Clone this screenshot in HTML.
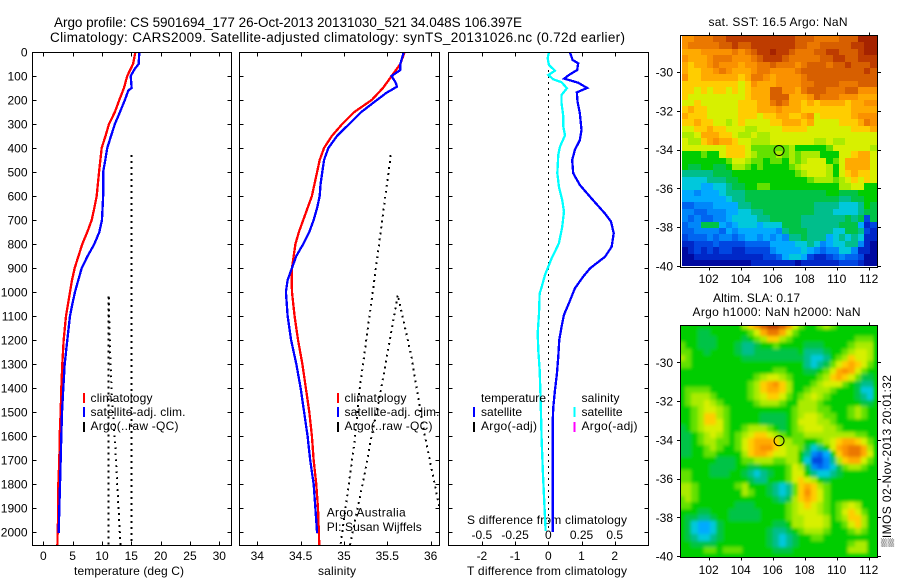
<!DOCTYPE html>
<html lang="en">
<head>
<meta charset="utf-8">
<title>Argo profile CS 5901694_177</title>
<style>
html,body{margin:0;padding:0;background:#fff;}
svg{display:block;font-family:"Liberation Sans",sans-serif;font-size:12px;fill:#000;}
</style>
</head>
<body>
<svg id="chart" xmlns="http://www.w3.org/2000/svg" width="900" height="580" viewBox="0 0 900 580">
  <rect x="0" y="0" width="900" height="580" fill="#fff"/>
  <defs>
    <clipPath id="clip-t"><rect x="33" y="53" width="198" height="492"/></clipPath>
    <clipPath id="clip-s"><rect x="240" y="53" width="199" height="492"/></clipPath>
    <clipPath id="clip-d"><rect x="449" y="53" width="199" height="492"/></clipPath>
    <clipPath id="clip-sla"><rect x="681" y="326" width="196" height="231"/></clipPath>
    <filter id="sla-smooth" filterUnits="userSpaceOnUse" x="660" y="305" width="240" height="275"><feGaussianBlur stdDeviation="1.6"/></filter>
  </defs>
  <text x="54" y="27" font-size="13.5" textLength="468" lengthAdjust="spacing">Argo profile: CS 5901694_177 26-Oct-2013 20131030_521 34.048S 106.397E</text>
  <text x="50" y="42" font-size="13.5" textLength="575" lengthAdjust="spacing">Climatology: CARS2009. Satellite-adjusted climatology: synTS_20131026.nc (0.72d earlier)</text>
  <g id="panel-temp"></g>
  <g id="panel-sal"></g>
  <g id="panel-diff"></g>
  <g id="map-sst"></g>
  <g id="map-sla"></g>
  <text transform="translate(891,547) rotate(-90)" textLength="172" lengthAdjust="spacing">▒IMOS 02-Nov-2013 20:01:32</text>
</svg>
<script>
/* ---------- profile data ---------- */
const depthTicks = [0,100,200,300,400,500,600,700,800,900,1000,1100,1200,1300,1400,1500,1600,1700,1800,1900,2000];
const tempTicks = [0,5,10,15,20,25,30];
const salTicks = [34,34.5,35,35.5,36];
const salTickLabels = ['34','34.5','35','35.5','36'];
const diffTicks = [-2,-1,0,1,2];
const sDiffTicks = [-0.5,-0.25,0,0.25,0.5];
const sDiffTickLabels = ['-0.5','-0.25','0','0.25','0.5'];

const climTempDepth = [0,50,100,150,200,250,300,350,400,500,600,650,700,750,800,850,900,950,1000,1100,1200,1300,1400,1500,1600,1700,1800,1900,2000,2054];
const climTemp = [15.7,15.3,14.3,13.75,12.95,12.2,11.2,10.6,9.95,9.5,9.1,8.7,8.25,7.5,6.65,6.0,5.35,4.9,4.55,3.87,3.47,3.24,3.07,2.96,2.79,2.73,2.56,2.56,2.45,2.4];
const satTempDepth = [0,50,70,100,150,160,200,250,300,350,400,450,500,600,700,750,800,850,900,950,1000,1050,1100,1200,1300,1400,1500,1600,1700,1800,1900,2005];
const satTemp = [16.37,16.25,15.6,14.9,15.06,14.5,13.9,13.07,12.2,11.54,10.9,10.57,10.2,10.2,10.0,9.55,8.7,7.56,6.55,5.97,5.4,4.95,4.55,4.09,3.65,3.41,3.19,3.07,2.96,2.85,2.73,2.62];

const climSalDepth = [0,50,100,150,200,250,300,350,400,450,500,550,600,650,700,750,800,850,900,950,1000,1100,1200,1300,1400,1500,1600,1700,1800,1900,2000,2054];
const climSal = [35.70,35.65,35.55,35.45,35.32,35.12,34.98,34.86,34.77,34.72,34.69,34.66,34.63,34.58,34.53,34.48,34.44,34.42,34.40,34.397,34.40,34.43,34.47,34.52,34.56,34.60,34.63,34.65,34.68,34.70,34.71,34.715];
const satSalDepth = [0,50,75,100,130,145,170,200,250,300,350,400,450,500,550,600,650,700,750,800,850,900,950,1000,1100,1200,1300,1400,1500,1600,1700,1800,1900,2005];
const satSal = [35.69,35.65,35.65,35.55,35.60,35.61,35.49,35.38,35.20,35.06,34.92,34.82,34.77,34.75,34.73,34.72,34.69,34.65,34.60,34.53,34.45,34.40,34.35,34.33,34.35,34.39,34.45,34.5,34.54,34.58,34.61,34.65,34.67,34.69];

const argoDepth = [430,978,1408,1630,2054,1756,1617,1421,1158,1012,1271,1575,1896,2054];
const argoTemp = [15,15,15,15,15,12.5,12.2,11.65,11.27,11.15,11.15,11.15,11.15,11.15];
const argoSal = [35.54,35.34,35.18,35.12,34.96,35.24,35.31,35.42,35.55,35.62,35.78,35.92,36.1,36.25];
const argoReturnDepth = [2054];
const argoReturnTemp = [13.15];
const argoReturnSal = [35.07];

const tDiffDepth = [0,33,47,75,96,111,128,150,168,207,255,325,367,408,450,505,554,610,672,707,755,811,853,901,936,985,1047,1096,1144,1200,1270,1340,1410,1480,1550,1690,2000];
const tDiff = [0.65,0.73,0.9,0.87,0.62,0.48,0.9,1.17,0.86,0.88,0.95,1.0,0.95,0.8,0.72,0.75,0.95,1.3,1.7,1.89,1.97,1.91,1.71,1.26,1.05,0.8,0.62,0.47,0.4,0.33,0.30,0.26,0.2,0.15,0.13,0.13,0.13];
const sDiffDepth = [0,26,54,78,96,114,126,151,179,214,269,311,347,394,429,505,561,617,665,728,797,860,929,989,1005,1090,1172,1245,1325,1410,1510,1620,1760,1880,1995];
const sDiff = [0.005,-0.005,0.005,0.05,0,0.038,0.10,0.14,0.10,0.10,0.113,0.113,0.126,0.088,0.075,0.068,0.08,0.105,0.118,0.105,0.08,0.025,-0.025,-0.055,-0.065,-0.07,-0.08,-0.075,-0.065,-0.06,-0.055,-0.05,-0.04,-0.03,-0.02];
const zeroLineDepth = [0,2000];
const zeroLineValue = [0,0];

/* ---------- map data ---------- */
const mapLonTicks = [102,104,106,108,110,112];
const mapLatTicks = [30,32,34,36,38,40];
const argoLon = 106.397;
const argoLat = 34.048;
const levelColors = [[0,0,130],[0,10,160],[0,40,200],[0,70,225],[0,100,240],[0,135,250],[0,170,255],[0,200,220],[0,190,140],[0,195,70],[0,205,0],[100,225,0],[170,235,0],[215,240,0],[255,205,0],[255,170,0],[250,145,0],[235,120,0],[215,95,0],[190,60,0],[165,35,0]];
const sstGrid = [
[16,16,17,17,17,18,18,19,19,19,19,19,19,19,19,19,19,19,18,18,18,17,17,17,17,18,18,18,20,20,20],
[16,17,17,17,17,17,18,18,19,18,18,19,19,19,19,19,19,19,18,18,17,17,18,18,18,18,18,19,19,20,20],
[15,15,15,16,16,16,16,16,17,16,17,18,19,19,20,19,19,18,17,17,17,18,18,19,19,18,18,18,19,20,20],
[16,15,15,15,16,17,17,17,16,16,16,17,18,19,19,19,18,17,17,17,17,17,18,18,19,19,18,18,19,19,19],
[15,14,15,15,16,17,16,16,16,15,16,16,17,17,18,17,17,17,16,17,18,18,18,17,18,18,19,18,18,18,19],
[15,14,14,15,15,16,17,16,15,15,15,16,17,17,16,16,16,16,17,18,18,18,18,18,18,18,18,18,18,19,18],
[16,14,14,15,15,15,15,15,15,14,15,17,17,16,15,16,16,16,16,17,18,18,18,18,18,18,18,18,18,18,18],
[14,14,14,14,14,14,14,14,14,13,14,16,15,15,15,16,16,16,16,17,17,18,18,18,18,17,17,17,18,18,18],
[14,14,13,14,13,14,14,13,14,13,14,15,15,15,18,18,16,16,15,17,18,18,18,17,17,17,18,18,16,16,16],
[14,13,13,13,13,13,13,13,13,13,14,15,15,15,18,18,18,15,15,15,16,18,17,17,17,16,16,16,15,15,15],
[13,13,14,13,13,13,13,13,13,14,14,14,15,15,17,18,17,15,15,14,15,14,15,15,15,15,14,15,15,16,16],
[14,15,14,14,13,13,13,13,13,14,14,14,15,15,15,16,15,15,15,14,14,14,14,14,14,14,14,15,15,15,15],
[15,14,14,14,13,13,13,13,13,14,14,14,13,14,14,15,15,14,14,15,16,13,14,14,14,14,14,15,16,16,16],
[14,14,15,14,14,13,13,12,13,14,13,13,13,13,14,14,15,15,15,14,15,13,13,13,13,14,14,14,15,17,16],
[13,13,14,14,15,14,14,13,13,13,12,12,13,13,13,13,14,14,14,14,13,13,13,13,13,13,13,14,14,14,15],
[12,12,13,15,15,15,14,14,13,12,12,13,12,12,13,13,13,13,13,13,13,13,13,13,13,13,13,13,13,13,13],
[13,12,12,14,15,16,15,15,14,13,13,12,12,12,13,13,13,13,13,13,13,12,12,13,12,12,13,13,13,13,13],
[13,13,13,13,13,13,13,14,14,14,13,11,11,11,11,11,11,12,10,10,10,10,10,11,13,13,13,13,13,13,12],
[10,10,10,11,10,10,13,14,14,14,13,12,11,11,11,12,11,12,11,12,12,12,10,10,10,13,13,14,15,15,13],
[10,10,10,10,10,10,10,11,13,13,12,11,11,10,11,11,10,12,11,12,13,13,13,10,11,13,15,15,15,15,13],
[10,9,9,10,10,9,9,10,12,12,11,10,11,10,10,10,10,11,12,13,13,13,13,12,10,13,15,15,15,15,13],
[8,8,8,8,8,9,9,9,10,10,10,10,10,10,10,10,10,10,11,12,13,13,13,12,10,13,14,15,14,14,13],
[7,7,7,7,8,8,8,9,9,10,10,10,10,10,10,10,10,10,10,10,11,12,12,12,11,12,13,14,13,14,13],
[7,7,7,6,6,7,7,8,9,9,10,10,11,11,10,10,10,10,10,10,10,10,10,10,10,12,12,13,13,10,10],
[6,6,5,6,6,6,7,8,8,8,9,9,9,9,9,9,9,9,9,9,9,9,9,10,10,9,9,9,10,10,10],
[6,6,6,6,6,6,6,7,8,8,9,9,9,9,9,9,9,9,9,9,9,9,9,9,9,8,8,9,9,10,10],
[4,4,5,5,5,6,6,6,6,8,8,9,9,9,9,9,9,9,9,9,9,8,8,8,8,7,7,7,8,10,9],
[5,5,4,4,5,5,5,6,6,7,7,8,8,9,9,9,9,9,9,9,9,8,8,8,7,7,7,7,8,9,9],
[5,4,5,4,4,5,5,6,7,7,7,7,8,8,9,9,9,9,9,8,8,8,8,8,8,8,9,8,9,3,9],
[4,5,5,9,9,9,6,5,6,7,7,7,6,7,7,7,9,9,9,8,8,8,8,8,8,9,9,9,6,2,3],
[4,4,5,5,5,5,4,6,5,6,6,6,6,6,6,5,8,9,9,9,8,8,8,8,7,7,9,9,8,3,2],
[3,4,4,4,5,4,5,5,4,5,6,6,5,6,5,6,5,8,8,9,8,8,8,6,7,8,7,8,7,2,2],
[2,2,3,3,3,4,3,3,3,3,4,4,4,4,6,6,6,6,7,7,8,7,5,6,7,7,8,8,5,2,1],
[1,2,3,2,3,2,3,3,2,2,3,3,3,3,5,6,6,6,6,7,6,5,4,5,5,7,7,5,2,2,1],
[1,1,2,2,2,2,2,2,2,2,2,2,2,3,3,4,6,7,7,6,3,2,2,3,4,5,4,4,3,1,1],
[1,1,1,1,1,1,1,1,1,1,1,2,2,2,2,2,2,2,1,2,2,2,2,2,2,3,3,3,2,1,1]
];
const slaGrid = [
[10,10,10,10,10,10,10,10,10,10,12,14,16,18,19,19,18,16,13,11,10,10,11,12,11,10,10,10,10,10,10],
[10,10,10,9,9,10,10,10,10,10,10,11,13,15,17,17,15,13,11,10,10,10,10,10,10,10,10,10,10,10,10],
[10,10,10,9,9,9,10,10,10,10,9,10,11,12,14,14,12,11,10,10,10,10,10,10,10,10,10,10,11,11,11],
[11,10,10,9,9,9,10,10,10,9,8,8,9,10,10,11,10,10,10,10,9,9,9,10,10,10,10,11,12,12,12],
[11,11,10,10,9,10,10,10,10,9,8,8,9,9,9,9,9,9,9,10,8,8,8,9,10,10,11,12,13,13,12],
[12,11,10,10,10,10,10,10,10,10,9,9,9,9,9,9,9,9,9,9,8,7,7,8,10,11,12,14,13,13,12],
[11,11,10,10,10,10,10,10,10,10,10,10,10,10,10,10,10,10,10,10,8,7,8,9,11,13,14,15,14,13,11],
[10,10,10,10,10,10,10,10,10,10,10,10,10,10,10,11,11,10,10,10,9,9,10,11,13,15,16,15,13,11,10],
[10,10,10,10,10,10,10,10,10,10,10,10,11,12,13,13,12,11,10,10,10,10,11,12,14,15,14,13,11,9,9],
[10,10,10,10,10,10,10,10,10,10,10,11,12,14,15,16,14,12,10,10,10,11,12,13,13,13,11,10,9,8,8],
[10,11,11,11,11,10,10,10,10,10,10,11,12,14,15,15,14,12,10,10,11,12,12,12,11,10,10,10,9,7,7],
[10,11,12,12,12,11,10,10,10,10,10,11,12,13,14,14,13,11,10,11,12,13,12,11,10,10,10,10,9,8,7],
[10,11,12,12,13,12,11,10,10,10,10,10,11,12,12,12,11,10,10,12,12,12,11,10,10,10,10,10,10,9,9],
[10,10,11,12,13,13,12,11,10,10,10,10,10,10,10,10,10,10,11,12,12,12,11,11,10,10,10,11,12,11,10],
[10,10,11,12,14,14,12,11,10,10,10,10,10,9,9,9,9,10,11,12,13,13,12,11,11,10,10,11,12,11,10],
[10,10,11,12,14,14,13,11,10,10,10,10,10,9,9,9,9,10,11,13,13,13,12,12,11,10,10,10,10,10,10],
[9,10,11,12,13,13,13,11,10,10,11,12,12,12,11,10,9,10,11,12,13,13,13,12,12,11,10,10,10,10,10],
[9,9,10,11,12,13,12,11,10,11,12,13,14,14,13,12,11,10,11,11,12,12,12,12,12,12,12,12,11,11,10],
[9,9,10,11,12,12,11,11,10,11,13,14,15,15,15,14,12,12,11,11,10,10,11,12,13,14,15,15,14,13,11],
[9,9,10,10,11,12,11,10,10,11,13,14,15,16,16,14,13,12,12,11,9,7,8,10,13,15,16,17,17,15,12],
[9,9,10,10,11,11,10,10,10,10,12,14,15,15,14,13,13,12,12,10,8,5,4,6,10,14,16,17,17,15,13],
[10,10,10,10,10,10,9,9,9,10,11,11,12,12,12,11,11,12,12,10,7,3,3,5,8,12,14,15,15,13,11],
[10,10,10,10,10,9,9,9,9,10,10,9,9,10,10,10,10,11,13,12,9,5,4,5,7,9,11,12,12,11,10],
[11,11,10,10,10,9,9,9,10,10,9,8,7,8,9,10,10,11,13,13,10,8,7,7,8,9,10,10,10,10,10],
[11,11,10,10,10,10,10,10,10,10,10,9,8,8,10,10,10,11,13,14,13,12,10,9,10,10,10,10,10,10,10],
[12,12,11,10,10,10,10,10,10,11,12,10,10,10,9,8,7,8,11,14,15,14,12,11,10,10,10,10,10,10,10],
[12,12,11,10,10,10,10,10,10,10,12,11,10,10,9,8,7,8,11,14,16,14,13,11,10,10,10,10,10,10,10],
[11,12,11,10,10,10,10,10,10,10,10,10,10,10,10,9,8,9,12,14,15,14,13,11,10,10,10,10,10,10,10],
[11,11,10,10,10,10,10,10,10,9,9,9,10,10,10,10,10,11,12,13,14,13,12,11,10,11,12,13,12,10,10],
[10,10,10,9,9,10,10,10,9,9,9,9,9,10,10,10,10,11,12,13,13,13,12,11,10,11,13,14,13,11,10],
[10,9,9,8,8,9,10,10,9,9,9,9,9,10,10,10,10,11,12,12,13,13,13,12,10,11,12,14,14,12,10],
[10,9,7,6,6,7,9,10,10,10,10,10,10,10,10,9,9,10,12,12,13,13,13,12,10,10,11,13,14,12,10],
[10,9,7,6,6,7,9,10,10,10,10,10,10,10,9,8,8,9,10,11,12,12,12,11,10,10,10,11,12,11,10],
[10,9,8,7,7,8,9,10,10,10,10,10,10,10,9,8,7,8,9,10,10,11,11,10,10,10,10,10,10,10,10],
[10,10,9,9,9,9,10,10,10,10,10,10,10,10,9,8,7,8,9,10,10,10,10,10,10,10,10,11,12,12,10],
[10,10,10,10,11,11,10,11,11,11,10,10,10,10,10,9,9,9,10,10,10,10,10,10,10,10,10,12,12,12,10]
];

/* ---------- axis functions ---------- */
const SVGNS = 'http://www.w3.org/2000/svg';
const yDepth = d => 52 + 0.24 * d;
const xTemp = v => 43.3 + 5.867 * v;
const xSal = v => 257.3 + 86.67 * (v - 34);
const xDiffT = v => 548.3 + 33.2 * v;
const xDiffS = v => 548.3 + 132.8 * v;
const xLon = lon => 708.7 + 16 * (lon - 102);
const yLatSst = lat => 72 + 19.4 * (lat - 30);
const yLatSla = lat => 362.3 + 19.37 * (lat - 30);

function addText(parent, str, x, y, anchor, name, len) {
  const el = document.createElementNS(SVGNS, 'text');
  
  
  el.setAttribute('x', x);
  el.setAttribute('y', y);
  el.setAttribute('text-anchor', anchor);
  if (len) { el.setAttribute('textLength', len); el.setAttribute('lengthAdjust', 'spacing'); }
  el.textContent = str;
  parent.appendChild(el);
  return el;
}
function addLine(parent, x1, y1, x2, y2, name) {
  const el = document.createElementNS(SVGNS, 'line');
  
  
  el.setAttribute('x1', x1);
  el.setAttribute('y1', y1);
  el.setAttribute('x2', x2);
  el.setAttribute('y2', y2);
  el.setAttribute('stroke', '#000');
  el.setAttribute('stroke-width', '1');
  el.setAttribute('shape-rendering', 'crispEdges');
  parent.appendChild(el);
  return el;
}
function addFrame(parent, x, y, w, h, name) {
  const el = document.createElementNS(SVGNS, 'rect');
  
  
  el.setAttribute('x', x);
  el.setAttribute('y', y);
  el.setAttribute('width', w);
  el.setAttribute('height', h);
  el.setAttribute('fill', 'none');
  el.setAttribute('stroke', '#000');
  el.setAttribute('stroke-width', '1');
  el.setAttribute('shape-rendering', 'crispEdges');
  parent.appendChild(el);
  return el;
}
function addSeries(parent, depths, values, xFn, color, width, dash, clip, name) {
  const el = document.createElementNS(SVGNS, 'polyline');
  
  
  el.setAttribute('points', depths.map((d, i) => xFn(values[i]).toFixed(2) + ',' + yDepth(d).toFixed(2)).join(' '));
  el.setAttribute('fill', 'none');
  el.setAttribute('stroke', color);
  el.setAttribute('stroke-width', width);
  el.setAttribute('shape-rendering', 'crispEdges');
  if (dash) el.setAttribute('stroke-dasharray', dash);
  el.setAttribute('clip-path', 'url(#' + clip + ')');
  parent.appendChild(el);
  return el;
}
function addSwatch(parent, x, y, color, name) {
  const el = document.createElementNS(SVGNS, 'rect');
  
  
  el.setAttribute('x', x);
  el.setAttribute('y', y);
  el.setAttribute('width', 2);
  el.setAttribute('height', 10);
  el.setAttribute('fill', color);
  parent.appendChild(el);
  return el;
}
function profileFrame(g, left, right, xs, xFn, labels) {
  const top = 52.5, bottom = 545.5;
  addFrame(g, left, top, right - left, bottom - top, 'axes-frame');
  depthTicks.forEach(d => {
    const y = Math.round(yDepth(d)) + 0.5;
    addLine(g, left, y, left + 4, y, 'depth-tick');
    addLine(g, right - 4, y, right, y, 'depth-tick');
  });
  xs.forEach((v, i) => {
    const x = Math.round(xFn(v)) + 0.5;
    addLine(g, x, top, x, top + 4, 'x-tick');
    addLine(g, x, bottom - 4, x, bottom, 'x-tick');
    addText(g, labels[i], xFn(v), 560, 'middle', 'x-tick-label');
  });
}

/* ---------- temperature panel ---------- */
const lineWidth = 2.3;
const dotWidth = 2;
const dotPattern = '1.8 4.2';
const gT = document.getElementById('panel-temp');
profileFrame(gT, 32.5, 231.5, tempTicks, xTemp, tempTicks.map(String));
depthTicks.forEach(d => addText(gT, String(d), 27.5, yDepth(d) + 4.5, 'end', 'depth-tick-label'));
addText(gT, 'temperature (deg C)', 129, 575, 'middle', 'temperature-axis-title', 110);
addSeries(gT, argoDepth.slice(0, 5), argoTemp.slice(0, 5), xTemp, '#000', dotWidth, dotPattern, 'clip-t', 'argo-temperature-descent');
addSeries(gT, argoReturnDepth.concat(argoDepth.slice(5)), argoReturnTemp.concat(argoTemp.slice(5)), xTemp, '#000', dotWidth, dotPattern, 'clip-t', 'argo-temperature-return');
addSeries(gT, climTempDepth, climTemp, xTemp, '#f00', lineWidth, null, 'clip-t', 'climatology-temperature-line');
addSeries(gT, satTempDepth, satTemp, xTemp, '#00f', lineWidth, null, 'clip-t', 'satellite-temperature-line');
addSwatch(gT, 83, 393, '#f00', 'legend-swatch-climatology');
addSwatch(gT, 83, 407, '#00f', 'legend-swatch-satellite');
addSwatch(gT, 83, 422, '#000', 'legend-swatch-argo');
addText(gT, 'climatology', 90.5, 402, 'start', 'legend-label-climatology', 62);
addText(gT, 'satellite-adj. clim.', 90.5, 416, 'start', 'legend-label-satellite', 95);
addText(gT, 'Argo(..raw -QC)', 90.5, 430, 'start', 'legend-label-argo', 88);

/* ---------- salinity panel ---------- */
const gS = document.getElementById('panel-sal');
profileFrame(gS, 239.5, 439.5, salTicks, xSal, salTickLabels);
addText(gS, 'salinity', 337, 575, 'middle', 'salinity-axis-title', 38);
addSeries(gS, argoDepth.slice(0, 5), argoSal.slice(0, 5), xSal, '#000', dotWidth, dotPattern, 'clip-s', 'argo-salinity-descent');
addSeries(gS, argoReturnDepth.concat(argoDepth.slice(5)), argoReturnSal.concat(argoSal.slice(5)), xSal, '#000', dotWidth, dotPattern, 'clip-s', 'argo-salinity-return');
addSeries(gS, climSalDepth, climSal, xSal, '#f00', lineWidth, null, 'clip-s', 'climatology-salinity-line');
addSeries(gS, satSalDepth, satSal, xSal, '#00f', lineWidth, null, 'clip-s', 'satellite-salinity-line');
addSwatch(gS, 337, 393, '#f00', 'legend-swatch-climatology');
addSwatch(gS, 337, 407, '#00f', 'legend-swatch-satellite');
addSwatch(gS, 337, 422, '#000', 'legend-swatch-argo');
addText(gS, 'climatology', 344.5, 402, 'start', 'legend-label-climatology', 62);
addText(gS, 'satellite-adj. clim.', 344.5, 416, 'start', 'legend-label-satellite', 95);
addText(gS, 'Argo(..raw -QC)', 344.5, 430, 'start', 'legend-label-argo', 88);
addText(gS, 'Argo Australia', 326.7, 516.5, 'start', 'float-operator-note', 79);
addText(gS, 'PI: Susan Wijffels', 326.7, 531, 'start', 'principal-investigator-note', 95);

/* ---------- difference panel ---------- */
const gD = document.getElementById('panel-diff');
profileFrame(gD, 448.5, 648.5, diffTicks, xDiffT, diffTicks.map(String));
addText(gD, 'T difference from climatology', 547, 575, 'middle', 'temperature-difference-axis-title', 160);
addText(gD, 'S difference from climatology', 547, 524, 'middle', 'salinity-difference-axis-title', 160);
sDiffTicks.forEach((v, i) => addText(gD, sDiffTickLabels[i], xDiffS(v), 539, 'middle', 'salinity-difference-tick-label'));
addSeries(gD, zeroLineDepth, zeroLineValue, xDiffT, '#000', 1, '2 4', 'clip-d', 'zero-reference-line');
addSeries(gD, tDiffDepth, tDiff, xDiffT, '#00f', lineWidth, null, 'clip-d', 'temperature-difference-line');
addSeries(gD, sDiffDepth, sDiff, xDiffS, '#0ff', lineWidth, null, 'clip-d', 'salinity-difference-line');
addText(gD, 'temperature', 481, 402, 'start', 'legend-header-temperature', 65);
addText(gD, 'salinity', 581.5, 402, 'start', 'legend-header-salinity', 38);
addSwatch(gD, 473, 407, '#00f', 'legend-swatch-temperature-satellite');
addSwatch(gD, 473, 422, '#000', 'legend-swatch-temperature-argo');
addSwatch(gD, 573.5, 407, '#0ff', 'legend-swatch-salinity-satellite');
addSwatch(gD, 573.5, 422, '#f0f', 'legend-swatch-salinity-argo');
addText(gD, 'satellite', 481, 416, 'start', 'legend-label-temperature-satellite', 41);
addText(gD, 'Argo(-adj)', 481, 430, 'start', 'legend-label-temperature-argo', 56);
addText(gD, 'satellite', 581.5, 416, 'start', 'legend-label-salinity-satellite', 41);
addText(gD, 'Argo(-adj)', 581.5, 430, 'start', 'legend-label-salinity-argo', 56);

/* ---------- maps ---------- */
function drawCells(target, grid, yLat, frameTop, frameBottom, cellName) {
  const lonFirst = 100.31, lonLast = 112.49;
  const latFirst = (frameTop + 0.5 - yLat(30)) / (yLat(31) - yLat(30)) + 30;
  const latLast = (frameBottom - 1 - yLat(30)) / (yLat(31) - yLat(30)) + 30;
  const rows = grid.length, cols = grid[0].length;
  const dLon = (lonLast - lonFirst) / cols;
  const dLat = (latLast - latFirst) / rows;
  grid.forEach((row, r) => {
    row.forEach((v, c) => {
      const x0 = Math.round(xLon(lonFirst + c * dLon));
      const x1 = Math.round(xLon(lonFirst + (c + 1) * dLon));
      const y0 = Math.round(yLat(latFirst + r * dLat));
      const y1 = Math.round(yLat(latFirst + (r + 1) * dLat));
      const k = levelColors[Math.max(0, Math.min(levelColors.length - 1, Math.round(v)))];
      const cell = document.createElementNS(SVGNS, 'rect');
      
      
      cell.setAttribute('x', x0);
      cell.setAttribute('y', y0);
      cell.setAttribute('width', x1 - x0);
      cell.setAttribute('height', y1 - y0);
      cell.setAttribute('fill', 'rgb(' + k.join(',') + ')');
      cell.setAttribute('shape-rendering', 'crispEdges');
      target.appendChild(cell);
    });
  });
}
function drawMapAxes(g, yLat, frameTop, frameBottom, tickLabelY) {
  addFrame(g, 680.5, frameTop, 197, frameBottom - frameTop, 'map-frame');
  mapLonTicks.forEach(lon => {
    const x = Math.round(xLon(lon)) + 0.5;
    addLine(g, x, frameTop - 3, x, frameTop, 'longitude-tick');
    addLine(g, x, frameBottom, x, frameBottom + 3, 'longitude-tick');
    addText(g, String(lon), xLon(lon), tickLabelY, 'middle', 'longitude-tick-label');
  });
  mapLatTicks.forEach(lat => {
    const y = Math.round(yLat(lat)) + 0.5;
    addLine(g, 677, y, 680.5, y, 'latitude-tick');
    addLine(g, 877.5, y, 881, y, 'latitude-tick');
    addText(g, '-' + lat, 673, yLat(lat) + 4.5, 'end', 'latitude-tick-label');
  });
  const c = document.createElementNS(SVGNS, 'circle');
  
  
  c.setAttribute('cx', xLon(argoLon));
  c.setAttribute('cy', yLat(argoLat));
  c.setAttribute('r', 5);
  c.setAttribute('fill', 'none');
  c.setAttribute('stroke', '#000');
  c.setAttribute('stroke-width', '1');
  g.appendChild(c);
}
const gM1 = document.getElementById('map-sst');
const gM2 = document.getElementById('map-sla');
drawCells(gM1, sstGrid, yLatSst, 35.5, 267.5, 'sst-cell');
drawMapAxes(gM1, yLatSst, 35.5, 267.5, 283);

const slaBase = document.createElementNS(SVGNS, 'rect');


slaBase.setAttribute('x', 681);
slaBase.setAttribute('y', 326);
slaBase.setAttribute('width', 196);
slaBase.setAttribute('height', 231);
slaBase.setAttribute('fill', 'rgb(0,205,0)');
gM2.appendChild(slaBase);
const slaClip = document.createElementNS(SVGNS, 'g');


slaClip.setAttribute('clip-path', 'url(#clip-sla)');
gM2.appendChild(slaClip);
const slaCells = document.createElementNS(SVGNS, 'g');


slaCells.setAttribute('filter', 'url(#sla-smooth)');
slaCells.setAttribute('transform', 'translate(-3,-3)');
slaClip.appendChild(slaCells);
drawCells(slaCells, slaGrid, yLatSla, 325.5, 557.5, 'sla-cell');
drawMapAxes(gM2, yLatSla, 325.5, 557.5, 574);

addText(gM1, 'sat. SST: 16.5 Argo: NaN', 778, 26, 'middle', 'sst-map-title', 139);
addText(gM2, 'Altim. SLA: 0.17', 756.5, 302, 'middle', 'sla-map-title', 87);
addText(gM2, 'Argo h1000: NaN h2000: NaN', 776.5, 316, 'middle', 'sla-map-subtitle', 168);
</script>
</body>
</html>
